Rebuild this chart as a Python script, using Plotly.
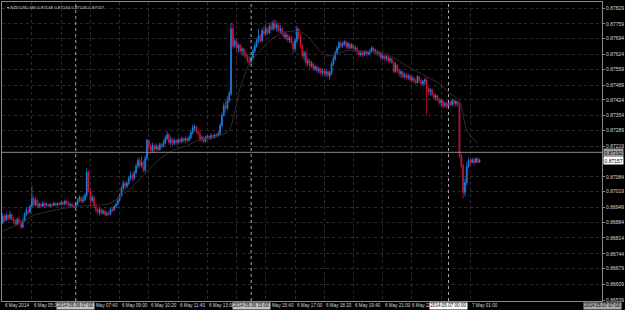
import pandas as pd
import plotly.graph_objects as go

symbol_text = "NZDUSD,M5 0.87148 0.87163 0.87146 0.87157"
start_time = "2014-05-06 03:40"
first_open = 0.86883

closes = [
    0.86910, 0.86892, 0.86914, 0.86901,
    0.86918, 0.86896, 0.86888, 0.86874, 0.86896, 0.86883, 0.86861, 0.86888, 0.86918, 0.86936, 0.86927, 0.86954,
    0.86989, 0.86962, 0.86980, 0.86954, 0.86962, 0.86954, 0.86967, 0.86958, 0.86962, 0.86954, 0.86962, 0.86958,
    0.86967, 0.86958, 0.86967, 0.86962, 0.86971, 0.86962, 0.86976, 0.86967, 0.86958, 0.86962, 0.86954, 0.86949,
    0.86962, 0.86980, 0.86993, 0.86976, 0.86984, 0.87002, 0.87103, 0.87024, 0.86980, 0.86993, 0.86958, 0.86936,
    0.86927, 0.86940, 0.86923, 0.86932, 0.86918, 0.86923, 0.86918, 0.86940, 0.86936, 0.86954, 0.86962, 0.86980,
    0.87002, 0.87033, 0.87055, 0.87042, 0.87055, 0.87077, 0.87090, 0.87077, 0.87103, 0.87130, 0.87156, 0.87134,
    0.87147, 0.87112, 0.87165, 0.87244, 0.87218, 0.87200, 0.87222, 0.87209, 0.87218, 0.87204, 0.87226, 0.87218,
    0.87235, 0.87253, 0.87270, 0.87235, 0.87248, 0.87231, 0.87244, 0.87235, 0.87248, 0.87240, 0.87253, 0.87244,
    0.87253, 0.87244, 0.87257, 0.87279, 0.87301, 0.87306, 0.87284, 0.87275, 0.87248, 0.87257, 0.87240, 0.87257,
    0.87262, 0.87253, 0.87266, 0.87257, 0.87270, 0.87266, 0.87275, 0.87310, 0.87354, 0.87398, 0.87385, 0.87420,
    0.87451, 0.87737, 0.87662, 0.87684, 0.87653, 0.87666, 0.87640, 0.87649, 0.87627, 0.87614, 0.87596, 0.87587,
    0.87609, 0.87640, 0.87662, 0.87684, 0.87706, 0.87684, 0.87728, 0.87715, 0.87737, 0.87719, 0.87750, 0.87737,
    0.87763, 0.87741, 0.87754, 0.87728, 0.87737, 0.87715, 0.87702, 0.87710, 0.87688, 0.87697, 0.87675, 0.87649,
    0.87684, 0.87737, 0.87706, 0.87662, 0.87618, 0.87631, 0.87587, 0.87596, 0.87574, 0.87583, 0.87561, 0.87570,
    0.87552, 0.87561, 0.87543, 0.87552, 0.87539, 0.87548, 0.87530, 0.87543, 0.87583, 0.87605, 0.87631, 0.87653,
    0.87675, 0.87662, 0.87671, 0.87680, 0.87658, 0.87671, 0.87653, 0.87666, 0.87649, 0.87653, 0.87636, 0.87622,
    0.87631, 0.87622, 0.87636, 0.87627, 0.87631, 0.87640, 0.87653, 0.87636, 0.87640, 0.87627, 0.87631, 0.87609,
    0.87618, 0.87605, 0.87614, 0.87596, 0.87605, 0.87587, 0.87548, 0.87578, 0.87552, 0.87539, 0.87548, 0.87526,
    0.87534, 0.87521, 0.87530, 0.87512, 0.87521, 0.87508, 0.87499, 0.87526, 0.87508, 0.87495, 0.87504, 0.87512,
    0.87473, 0.87460, 0.87468, 0.87446, 0.87433, 0.87442, 0.87424, 0.87411, 0.87420, 0.87398, 0.87407, 0.87394,
    0.87411, 0.87402, 0.87420, 0.87407, 0.87416, 0.87402, 0.87178, 0.87134, 0.87015, 0.87059, 0.87130, 0.87156,
    0.87147, 0.87160, 0.87147, 0.87165, 0.87148, 0.87157,
]

highs = [
    0.86923, 0.86918, 0.86927, 0.86918,
    0.86932, 0.86923, 0.86905, 0.86896, 0.86905, 0.86910, 0.86892, 0.86901, 0.86927, 0.86949, 0.86945, 0.86962,
    0.87042, 0.87002, 0.86993, 0.86984, 0.86971, 0.86967, 0.86976, 0.86971, 0.86971, 0.86967, 0.86967, 0.86967,
    0.86976, 0.86971, 0.86971, 0.86971, 0.86976, 0.86976, 0.86984, 0.86980, 0.86976, 0.86971, 0.86967, 0.86962,
    0.86971, 0.86989, 0.87002, 0.86998, 0.87002, 0.87011, 0.87121, 0.87112, 0.87033, 0.87006, 0.86998, 0.86967,
    0.86945, 0.86949, 0.86945, 0.86940, 0.86936, 0.86932, 0.86932, 0.86949, 0.86949, 0.86958, 0.86971, 0.86993,
    0.87011, 0.87042, 0.87068, 0.87064, 0.87064, 0.87086, 0.87108, 0.87099, 0.87112, 0.87143, 0.87169, 0.87169,
    0.87174, 0.87156, 0.87178, 0.87253, 0.87248, 0.87231, 0.87235, 0.87226, 0.87231, 0.87226, 0.87235, 0.87231,
    0.87248, 0.87266, 0.87284, 0.87279, 0.87262, 0.87257, 0.87253, 0.87248, 0.87257, 0.87253, 0.87262, 0.87257,
    0.87262, 0.87257, 0.87266, 0.87288, 0.87314, 0.87314, 0.87310, 0.87297, 0.87284, 0.87266, 0.87262, 0.87266,
    0.87270, 0.87266, 0.87275, 0.87270, 0.87275, 0.87275, 0.87284, 0.87323, 0.87367, 0.87411, 0.87420, 0.87438,
    0.87464, 0.87763, 0.87759, 0.87697, 0.87693, 0.87675, 0.87671, 0.87658, 0.87653, 0.87640, 0.87627, 0.87618,
    0.87618, 0.87649, 0.87675, 0.87697, 0.87737, 0.87715, 0.87741, 0.87750, 0.87759, 0.87746, 0.87763, 0.87768,
    0.87776, 0.87781, 0.87772, 0.87763, 0.87754, 0.87746, 0.87728, 0.87724, 0.87715, 0.87706, 0.87706, 0.87684,
    0.87697, 0.87750, 0.87741, 0.87715, 0.87671, 0.87640, 0.87640, 0.87609, 0.87605, 0.87596, 0.87592, 0.87578,
    0.87574, 0.87570, 0.87565, 0.87561, 0.87561, 0.87556, 0.87552, 0.87552, 0.87592, 0.87618, 0.87640, 0.87662,
    0.87684, 0.87684, 0.87680, 0.87688, 0.87684, 0.87680, 0.87675, 0.87675, 0.87671, 0.87662, 0.87658, 0.87644,
    0.87640, 0.87640, 0.87644, 0.87640, 0.87640, 0.87649, 0.87662, 0.87658, 0.87649, 0.87644, 0.87640, 0.87636,
    0.87627, 0.87622, 0.87622, 0.87618, 0.87614, 0.87609, 0.87596, 0.87592, 0.87583, 0.87561, 0.87556, 0.87552,
    0.87543, 0.87543, 0.87539, 0.87534, 0.87530, 0.87526, 0.87517, 0.87534, 0.87530, 0.87517, 0.87512, 0.87521,
    0.87521, 0.87482, 0.87477, 0.87473, 0.87455, 0.87451, 0.87446, 0.87433, 0.87429, 0.87424, 0.87416, 0.87416,
    0.87420, 0.87420, 0.87429, 0.87424, 0.87424, 0.87420, 0.87411, 0.87187, 0.87143, 0.87077, 0.87147, 0.87169,
    0.87165, 0.87169, 0.87165, 0.87169, 0.87169, 0.87163,
]

lows = [
    0.86874, 0.86883, 0.86888, 0.86892,
    0.86896, 0.86888, 0.86874, 0.86866, 0.86870, 0.86874, 0.86852, 0.86857, 0.86883, 0.86910, 0.86918, 0.86923,
    0.86949, 0.86954, 0.86954, 0.86945, 0.86945, 0.86949, 0.86949, 0.86949, 0.86954, 0.86949, 0.86949, 0.86954,
    0.86954, 0.86954, 0.86954, 0.86958, 0.86958, 0.86958, 0.86958, 0.86962, 0.86954, 0.86949, 0.86949, 0.86945,
    0.86945, 0.86958, 0.86971, 0.86967, 0.86967, 0.86976, 0.86993, 0.87015, 0.86954, 0.86971, 0.86945, 0.86927,
    0.86918, 0.86914, 0.86918, 0.86918, 0.86910, 0.86910, 0.86910, 0.86914, 0.86927, 0.86932, 0.86945, 0.86958,
    0.86976, 0.86993, 0.87024, 0.87024, 0.87033, 0.87046, 0.87068, 0.87064, 0.87068, 0.87094, 0.87121, 0.87121,
    0.87125, 0.87103, 0.87103, 0.87156, 0.87200, 0.87187, 0.87191, 0.87187, 0.87200, 0.87196, 0.87200, 0.87209,
    0.87213, 0.87226, 0.87244, 0.87226, 0.87222, 0.87222, 0.87222, 0.87226, 0.87226, 0.87231, 0.87231, 0.87235,
    0.87235, 0.87235, 0.87240, 0.87248, 0.87270, 0.87288, 0.87275, 0.87266, 0.87240, 0.87240, 0.87231, 0.87235,
    0.87248, 0.87248, 0.87248, 0.87253, 0.87253, 0.87257, 0.87262, 0.87266, 0.87301, 0.87350, 0.87367, 0.87380,
    0.87411, 0.87442, 0.87649, 0.87653, 0.87640, 0.87631, 0.87627, 0.87618, 0.87614, 0.87605, 0.87587, 0.87578,
    0.87578, 0.87600, 0.87631, 0.87653, 0.87675, 0.87675, 0.87680, 0.87702, 0.87706, 0.87710, 0.87715, 0.87728,
    0.87728, 0.87732, 0.87724, 0.87719, 0.87715, 0.87706, 0.87693, 0.87688, 0.87680, 0.87675, 0.87666, 0.87627,
    0.87640, 0.87675, 0.87693, 0.87649, 0.87605, 0.87596, 0.87570, 0.87574, 0.87561, 0.87565, 0.87552, 0.87552,
    0.87543, 0.87539, 0.87534, 0.87530, 0.87530, 0.87526, 0.87521, 0.87512, 0.87534, 0.87574, 0.87596, 0.87622,
    0.87644, 0.87653, 0.87653, 0.87662, 0.87649, 0.87649, 0.87644, 0.87649, 0.87640, 0.87636, 0.87627, 0.87614,
    0.87614, 0.87614, 0.87618, 0.87618, 0.87618, 0.87622, 0.87631, 0.87627, 0.87627, 0.87618, 0.87614, 0.87596,
    0.87600, 0.87596, 0.87596, 0.87587, 0.87587, 0.87583, 0.87539, 0.87543, 0.87543, 0.87526, 0.87521, 0.87517,
    0.87517, 0.87512, 0.87512, 0.87504, 0.87504, 0.87499, 0.87490, 0.87495, 0.87499, 0.87486, 0.87486, 0.87490,
    0.87354, 0.87446, 0.87442, 0.87438, 0.87424, 0.87420, 0.87416, 0.87402, 0.87394, 0.87385, 0.87389, 0.87385,
    0.87385, 0.87394, 0.87394, 0.87398, 0.87394, 0.87394, 0.87165, 0.87121, 0.86989, 0.86998, 0.87046, 0.87121,
    0.87138, 0.87143, 0.87130, 0.87143, 0.87143, 0.87146,
]

# moving average line
ma_times = [
    "2014-05-06 03:40", "2014-05-06 04:30", "2014-05-06 05:05", "2014-05-06 06:00",
    "2014-05-06 07:05", "2014-05-06 08:00", "2014-05-06 08:35", "2014-05-06 09:30",
    "2014-05-06 10:05", "2014-05-06 10:45", "2014-05-06 11:25", "2014-05-06 12:05",
    "2014-05-06 12:40", "2014-05-06 13:35", "2014-05-06 14:00", "2014-05-06 14:30",
    "2014-05-06 14:55", "2014-05-06 15:25", "2014-05-06 15:50", "2014-05-06 16:25",
    "2014-05-06 17:05", "2014-05-06 17:35", "2014-05-06 18:00", "2014-05-06 18:25",
    "2014-05-06 18:55", "2014-05-06 19:20", "2014-05-06 20:05", "2014-05-06 21:10",
    "2014-05-06 22:05", "2014-05-06 23:00", "2014-05-06 23:35", "2014-05-07 00:05",
    "2014-05-07 00:30", "2014-05-07 00:50", "2014-05-07 01:20",
]
ma_values = [
    0.86844, 0.86879, 0.86914, 0.86936, 0.86954, 0.86958, 0.86967, 0.87033,
    0.87090, 0.87156, 0.87200, 0.87222, 0.87248, 0.87266, 0.87288, 0.87477,
    0.87583, 0.87640, 0.87684, 0.87719, 0.87728, 0.87706, 0.87653, 0.87618,
    0.87627, 0.87640, 0.87640, 0.87627, 0.87574, 0.87526, 0.87495, 0.87451,
    0.87420, 0.87288, 0.87231,
]

price_ticks = [0.87829, 0.87759, 0.87694, 0.87624, 0.87559, 0.87489, 0.87424, 0.87354,
               0.87289, 0.87219, 0.87084, 0.87019, 0.86949, 0.86884, 0.86814, 0.86744,
               0.86679, 0.86609, 0.86539]

# time grid (every 80 minutes) and the labels visible under it
grid_times = ["2014-05-06 05:00", "2014-05-06 06:20", "2014-05-06 07:40", "2014-05-06 09:00",
              "2014-05-06 10:20", "2014-05-06 11:40", "2014-05-06 13:00", "2014-05-06 14:20",
              "2014-05-06 15:40", "2014-05-06 17:00", "2014-05-06 18:20", "2014-05-06 19:40",
              "2014-05-06 21:00", "2014-05-06 22:20", "2014-05-06 23:40", "2014-05-07 01:00"]
label_times = ["2014-05-06 03:40", "2014-05-06 05:00", "2014-05-06 09:00", "2014-05-06 10:20",
               "2014-05-06 11:40", "2014-05-06 13:00", "2014-05-06 17:00", "2014-05-06 18:20",
               "2014-05-06 19:40", "2014-05-06 21:00", "2014-05-07 01:00"]
label_texts = ["6 May 2014", "6 May 05:00", "6 May 09:00", "6 May 10:20",
               "6 May 11:40", "6 May 13:00", "6 May 17:00", "6 May 18:20",
               "6 May 19:40", "6 May 21:00", "7 May 01:00"]
# labels partly covered by the date boxes (only the visible part is shown)
clipped_times = ["2014-05-06 07:40", "2014-05-06 15:40", "2014-05-06 22:20"]
clipped_texts = ["May 07:40", "May 15:40", "6 May 22"]
clipped_shift = [4, 4, -2]

marker_times = ["2014-05-06 07:00", "2014-05-06 15:00", "2014-05-07 00:00"]
marker_texts = ["2014.05.06 07:00", "2014.05.06 15:00", "2014.05.07 00:00"]
marker_bg = ["#c4c4c4", "#c4c4c4", "#ffffff"]
edge_time = "2014-05-07 07:00"
edge_text = "2014.05.07 07:00"

hline_price = 0.87192
bid_price = 0.87157

x_range = ["2014-05-06 03:38:11", "2014-05-07 07:00:00"]
y_range = [0.865356, 0.878556]

# ---------------------------------------------------------------
times = pd.date_range(start_time, periods=len(closes), freq="5min")
opens = [first_open] + closes[:-1]
highs = [max(h, o, c) for h, o, c in zip(highs, opens, closes)]
lows = [min(l, o, c) for l, o, c in zip(lows, opens, closes)]

BLUE = "#1f7fe0"
RED = "#c8143c"
TXT = "#d6d6d6"
FONT = "Liberation Sans"
XF = 4.6

fig = go.Figure()
fig.add_trace(go.Scatter(x=ma_times, y=ma_values, mode="lines",
                         line=dict(color="#303030", width=1, shape="spline", smoothing=0.6),
                         hoverinfo="skip", showlegend=False))
fig.add_trace(go.Candlestick(
    x=times, open=opens, high=highs, low=lows, close=closes,
    increasing=dict(line=dict(color=BLUE, width=0.8), fillcolor=BLUE),
    decreasing=dict(line=dict(color=RED, width=0.8), fillcolor=RED),
    whiskerwidth=0, showlegend=False))

shapes = []
shapes.append(dict(type="line", xref="paper", x0=0, x1=1, yref="y", y0=hline_price, y1=hline_price,
                   line=dict(color="#8c8c8c", width=1)))
for t in marker_times:
    shapes.append(dict(type="line", xref="x", x0=t, x1=t, yref="paper", y0=0, y1=1,
                       line=dict(color="#a8a8a8", width=1, dash="dot")))

annotations = []
annotations.append(dict(xref="paper", yref="paper", x=0, y=1, xanchor="left", yanchor="top",
                        xshift=3, yshift=-1, showarrow=False, text="▾ " + symbol_text,
                        font=dict(size=4.4, color=TXT, family=FONT)))
for t, s in zip(label_times, label_texts):
    annotations.append(dict(xref="x", yref="paper", x=t, y=0, xanchor="left", yanchor="middle",
                            yshift=-4.5, showarrow=False, text=s,
                            font=dict(size=XF, color=TXT, family=FONT)))
for t, s, dx in zip(clipped_times, clipped_texts, clipped_shift):
    annotations.append(dict(xref="x", yref="paper", x=t, y=0, xanchor="left", yanchor="middle",
                            xshift=dx, yshift=-4.5, showarrow=False, text=s,
                            font=dict(size=XF, color=TXT, family=FONT)))
for t, s, bg in zip(marker_times, marker_texts, marker_bg):
    annotations.append(dict(xref="x", yref="paper", x=t, y=0, xanchor="center", yanchor="middle",
                            yshift=-4.5, showarrow=False, text=s, bgcolor=bg, borderpad=0.3,
                            font=dict(size=XF, color="#000000", family=FONT)))
annotations.append(dict(xref="x", yref="paper", x=edge_time, y=0, xanchor="center", yanchor="middle",
                        yshift=-4.5, showarrow=False, text=edge_text, bgcolor="#a8a8a8", borderpad=0.3,
                        font=dict(size=XF, color="#000000", family=FONT)))
annotations.append(dict(xref="paper", yref="y", x=1, y=hline_price, xanchor="left", yanchor="middle",
                        xshift=1, showarrow=False, text=f"{hline_price:.5f}", bgcolor="#9a9a9a",
                        borderpad=0.5, font=dict(size=5, color="#000000", family=FONT)))
annotations.append(dict(xref="paper", yref="y", x=1, y=bid_price, xanchor="left", yanchor="middle",
                        xshift=1, showarrow=False, text=f"{bid_price:.5f}", bgcolor="#ffffff",
                        borderpad=0.5, font=dict(size=5, color="#000000", family=FONT)))

fig.update_layout(
    width=625, height=310,
    margin=dict(l=1, r=22, t=1, b=9),
    paper_bgcolor="#000000", plot_bgcolor="#000000",
    showlegend=False,
    shapes=shapes, annotations=annotations,
    xaxis=dict(type="date", range=x_range, tickvals=grid_times, showticklabels=False,
               showgrid=True, gridcolor="#2c2c2c", griddash="dot", gridwidth=1,
               showline=True, linecolor="#8a8a8a", linewidth=1, mirror=True,
               zeroline=False, rangeslider=dict(visible=False), ticks=""),
    yaxis=dict(side="right", range=y_range, tickvals=price_ticks,
               ticktext=[f"{v:.5f}" for v in price_ticks],
               tickfont=dict(size=5, color=TXT, family=FONT),
               ticks="outside", ticklen=2, tickcolor="#8a8a8a",
               showgrid=True, gridcolor="#2c2c2c", griddash="dot", gridwidth=1,
               showline=True, linecolor="#8a8a8a", linewidth=1, mirror=True, zeroline=False),
)

fig.write_html("out.html", config={"displayModeBar": False})
